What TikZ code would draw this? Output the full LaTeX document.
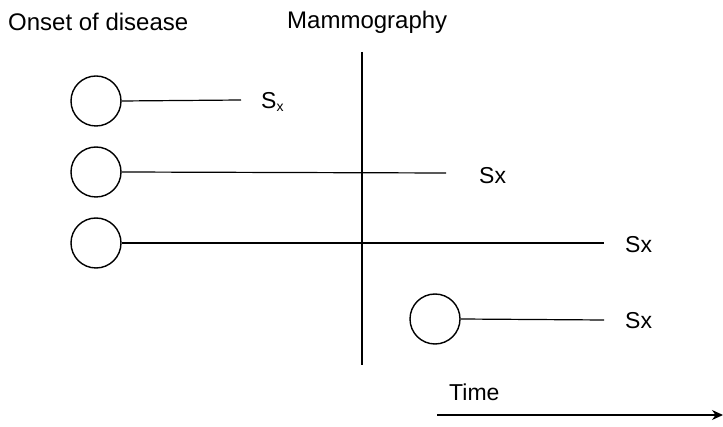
\documentclass[tikz,border=0pt]{standalone}
\usepackage{fontspec}
\setmainfont{Liberation Sans}
\usetikzlibrary{arrows.meta}
\begin{document}
\begin{tikzpicture}[x=1pt,y=-1pt,
  onset/.style={circle,draw,line width=1.4pt,minimum size=50pt,inner sep=0pt},
  tl/.style={line width=1.2pt},
  lbl/.style={font=\fontsize{23}{26}\selectfont,inner sep=0pt,anchor=west},
  hdr/.style={font=\fontsize{24}{28}\selectfont,inner sep=0pt,anchor=west}]
\useasboundingbox (0,0) rectangle (723,427);
\node[hdr] (onset) at (8,22) {Onset of disease};
\node[hdr] (mammo) at (287,22) {Mammography};
\coordinate (vt) at (362,52);
\coordinate (vb) at (362,365);
\draw[tl] (vt) -- (vb);
\node[onset] (c1) at (96,101) {};
\node[onset] (c2) at (96,172) {};
\node[onset] (c3) at (96,243) {};
\node[onset] (c4) at (435,319) {};
\coordinate (e1) at (241,100);
\coordinate (e2) at (446,173);
\coordinate (e3) at (604,243);
\coordinate (e4) at (604,320);
\draw[tl] (c1.east) -- (e1);
\draw[tl] (c2.east) -- (e2);
\draw[tl] (c3.east) -- (e3);
\draw[tl] (c4.east) -- (e4);
\node[lbl] (s1) at (261,102) {S\raisebox{-3pt}{\fontsize{14}{16}\selectfont x}};
\node[lbl] (s2) at (479,176) {Sx};
\node[lbl] (s3) at (625,245) {Sx};
\node[lbl] (s4) at (625,321) {Sx};
\node[lbl] (time) at (449,392) {Time};
\coordinate (a0) at (437,415);
\coordinate (a1) at (723,415);
\draw[tl,-{Stealth[length=11pt,width=10pt]}] (a0) -- (a1);
\end{tikzpicture}
\end{document}
